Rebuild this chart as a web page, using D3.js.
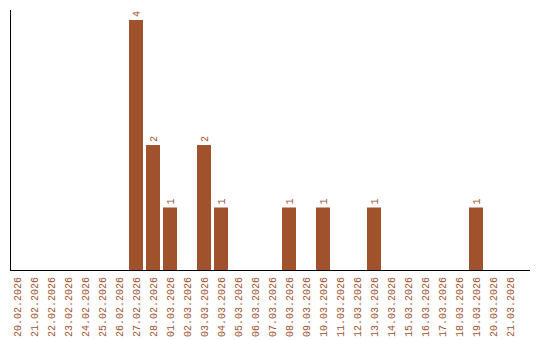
<!DOCTYPE html>
<html>
  <head>
    <script src="https://d3js.org/d3.v7.min.js"></script>
    <style>
      body { margin: 0; background: #fff; }
      text { font-family: "Liberation Mono", monospace; font-size: 10px; fill: #a0522d; }
    </style>
  </head>
  <body>
    <svg id="chart" width="540" height="340"></svg>
    <script>
      // data
      const dates = [
        "20.02.2026", "21.02.2026", "22.02.2026", "23.02.2026", "24.02.2026",
        "25.02.2026", "26.02.2026", "27.02.2026", "28.02.2026", "01.03.2026",
        "02.03.2026", "03.03.2026", "04.03.2026", "05.03.2026", "06.03.2026",
        "07.03.2026", "08.03.2026", "09.03.2026", "10.03.2026", "11.03.2026",
        "12.03.2026", "13.03.2026", "14.03.2026", "15.03.2026", "16.03.2026",
        "17.03.2026", "18.03.2026", "19.03.2026", "20.03.2026", "21.03.2026"
      ];
      const counts = [0, 0, 0, 0, 0, 0, 0, 4, 2, 1, 0, 2, 1, 0, 0, 0, 1, 0, 1, 0, 0, 1, 0, 0, 0, 0, 0, 1, 0, 0];

      const svg = d3.select("#chart");
      const mLeft = 10, mTop = 10, mBottom = 270, mRight = 530;

      // 17px step, 14px bars
      const x = d3.scaleBand()
        .domain(dates)
        .range([mLeft, mLeft + 17 * dates.length - 3])
        .paddingInner(3 / 17)
        .paddingOuter(0);

      const y = d3.scaleLinear().domain([0, 4]).range([mBottom, mBottom - 250]);

      const data = dates.map((d, i) => ({ date: d, value: counts[i] }));
      const bw = x.bandwidth();

      // bars
      svg.selectAll("rect.bar")
        .data(data.filter(d => d.value > 0))
        .enter()
        .append("rect")
        .attr("class", "bar")
        .attr("x", d => x(d.date))
        .attr("y", d => y(d.value))
        .attr("width", bw)
        .attr("height", d => mBottom - y(d.value))
        .attr("fill", "#a0522d");

      // value labels
      svg.selectAll("text.val")
        .data(data.filter(d => d.value > 0))
        .enter()
        .append("text")
        .attr("class", "val")
        .attr("transform", d => `translate(${x(d.date) + bw / 2},${y(d.value) - 3}) rotate(-90)`)
        .attr("dy", "0.35em")
        .text(d => d.value);

      // date labels
      svg.selectAll("text.date")
        .data(dates)
        .enter()
        .append("text")
        .attr("class", "date")
        .attr("transform", d => `translate(${x(d) + bw / 2},${mBottom + 7}) rotate(-90)`)
        .attr("text-anchor", "end")
        .attr("dy", "0.35em")
        .text(d => d);

      // axes lines
      svg.append("line")
        .attr("x1", mLeft + 0.5).attr("x2", mLeft + 0.5)
        .attr("y1", mTop).attr("y2", mBottom)
        .attr("stroke", "#000");
      svg.append("line")
        .attr("x1", mLeft).attr("x2", mRight)
        .attr("y1", mBottom + 0.5).attr("y2", mBottom + 0.5)
        .attr("stroke", "#000");
    </script>
  </body>
</html>
